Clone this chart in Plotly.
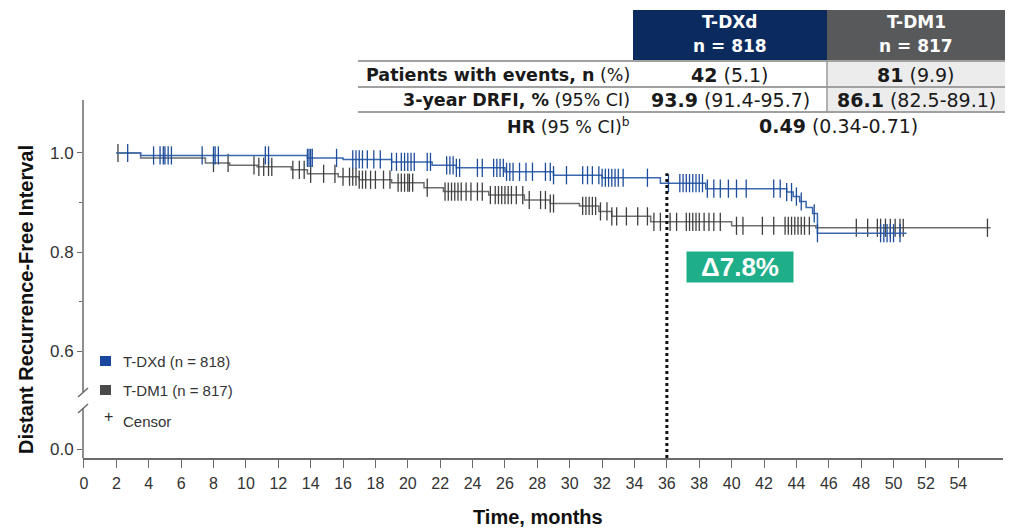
import numpy as np
import plotly.graph_objects as go

# ---------------- data ----------------
tdxd_times = [2.0, 3.5, 13.8, 16.0, 19.0, 21.5, 23.0, 26.0, 29.0, 32.0, 35.6, 38.4,
              43.4, 43.8, 44.2, 44.6, 45.0, 45.3]
tdxd_surv = [1.0, 0.995, 0.990, 0.987, 0.982, 0.975, 0.970, 0.962, 0.955, 0.950, 0.939,
             0.928, 0.921, 0.912, 0.902, 0.890, 0.878, 0.838]
tdxd_end = 50.8

tdm1_times = [2.0, 3.5, 7.5, 9.0, 10.7, 12.8, 13.8, 15.7, 17.0, 19.0, 21.0, 22.2, 25.0,
              27.2, 28.8, 30.6, 31.8, 32.6, 35.0, 40.0, 45.2]
tdm1_surv = [1.0, 0.990, 0.980, 0.975, 0.972, 0.966, 0.958, 0.952, 0.946, 0.940, 0.930,
             0.922, 0.915, 0.905, 0.898, 0.893, 0.882, 0.872, 0.861, 0.853, 0.849]
tdm1_end = 56.0

tdxd_censor = [2.7, 4.3, 4.7, 4.9, 5.0, 5.2, 5.4, 7.3, 8.0, 8.1, 8.3, 11.2, 11.4, 13.8, 13.9,
               14.0, 14.1, 15.6, 16.6, 16.8, 17.0, 17.2, 17.5, 17.9, 18.3, 19.0, 19.3, 19.6,
               19.8, 20.0, 20.2, 20.4, 21.2, 21.4, 22.4, 22.6, 22.8, 23.0, 23.2, 24.3, 24.6,
               25.3, 25.5, 25.7, 25.9, 26.1, 26.3, 26.5, 26.9, 27.3, 27.7, 28.5, 28.8, 29.0,
               29.8, 30.8, 31.1, 31.4, 31.8, 32.0, 32.2, 32.4, 32.6, 32.8, 33.0, 33.3, 34.8,
               36.1, 36.8, 37.0, 37.2, 37.4, 37.6, 37.8, 38.0, 38.2, 38.5, 38.9, 39.3, 39.8,
               40.3, 40.9, 42.6, 43.0, 43.4, 43.7, 44.0, 44.3, 45.1, 45.3, 49.2, 49.4, 49.6,
               49.8, 50.0, 50.4]
tdm1_censor = [2.1, 8.0, 8.9, 10.5, 10.8, 11.1, 11.4, 11.6, 12.9, 13.3, 13.6, 14.0, 14.8, 15.5,
               16.0, 16.4, 16.6, 16.8, 17.0, 17.2, 17.4, 17.7, 18.0, 18.5, 18.9, 19.4, 19.6,
               19.8, 20.0, 20.1, 20.3, 21.2, 22.3, 22.5, 22.7, 22.9, 23.1, 23.3, 23.6, 23.9,
               24.3, 24.6, 25.1, 25.4, 25.6, 25.8, 26.0, 26.2, 26.4, 26.7, 27.1, 27.5, 28.2,
               28.5, 28.8, 29.0, 30.8, 31.0, 31.2, 31.4, 31.6, 31.9, 32.3, 32.6, 32.9, 33.5,
               34.2, 34.8, 35.2, 35.6, 36.2, 36.6, 37.2, 37.4, 37.6, 37.8, 38.0, 38.3, 38.6,
               38.9, 39.3, 40.3, 40.7, 41.9, 42.6, 43.3, 43.5, 43.7, 43.9, 44.1, 44.3, 44.5,
               44.8, 47.7, 48.4, 49.0, 49.2, 49.5, 49.8, 50.1, 50.4, 50.6, 55.8]

x_ticks = list(range(0, 56, 2))
y_tick_labels = ["0.0", "0.6", "0.8", "1.0"]
y_tick_values = [0.0, 0.6, 0.8, 1.0]
landmark_month = 36
delta_text = "Δ7.8%"

table_rows = ["<b>Patients with events, n</b> (%)", "<b>3-year DRFI, %</b> (95% CI)",
              "<b>HR</b> (95 % CI)<sup>b</sup>"]
tdxd_cells = ["<b>42</b> (5.1)", "<b>93.9</b> (91.4-95.7)"]
tdm1_cells = ["<b>81</b> (9.9)", "<b>86.1</b> (82.5-89.1)"]
hr_cell = "<b>0.49</b> (0.34-0.71)"

# ---------------- styling / layout helpers ----------------
BLUE_LINE = "#3a68b0"
BLUE_MARK = "#1d4d9a"
GRAY_LINE = "#6e6e6e"
GRAY_MARK = "#3f3f3f"
NAVY = "#0b2b5e"
DGRAY = "#58595b"
FONT = "Liberation Sans, Arial, sans-serif"
WFONT = "DejaVu Sans, Liberation Sans, sans-serif"

W, H = 1015, 528
L, R, T, B = 83, 1003, 100, 458  # plot area in pixels

# broken axis: the "0.0" tick sits below the break at a pseudo position
ZERO_POS = 0.402
Y_RANGE = [0.384, 1.107]
X_RANGE = [-0.06, 56.76]


def ymap(v):
    return ZERO_POS if v == 0.0 else v


def px(xp):
    return (xp - L) / (R - L)


def py(yp):
    return (B - yp) / (B - T)


def step_value(times, surv, t):
    idx = np.searchsorted(np.asarray(times), t, side="right") - 1
    return np.asarray(surv)[np.clip(idx, 0, len(surv) - 1)]


fig = go.Figure()

for times, surv, end, cens, lc, mc, name in [
    (tdm1_times, tdm1_surv, tdm1_end, tdm1_censor, GRAY_LINE, GRAY_MARK, "T-DM1"),
    (tdxd_times, tdxd_surv, tdxd_end, tdxd_censor, BLUE_LINE, BLUE_MARK, "T-DXd"),
]:
    xs = list(times) + [end]
    ys = list(surv) + [surv[-1]]
    fig.add_trace(go.Scatter(x=xs, y=ys, mode="lines", line=dict(color=lc, width=1.5, shape="hv"),
                             showlegend=False, name=name, hoverinfo="skip"))
    cy = step_value(times, surv, np.asarray(cens))
    fig.add_trace(go.Scatter(x=cens, y=cy, mode="markers",
                             marker=dict(symbol="line-ns", size=13, line=dict(color=mc, width=1.3)),
                             showlegend=False, name=name + " censor", hoverinfo="skip"))

shapes = []
# landmark dotted line at 36 months
tdxd_36 = float(step_value(tdxd_times, tdxd_surv, landmark_month))
shapes.append(dict(type="line", xref="x", yref="y", x0=landmark_month, x1=landmark_month,
                   y0=Y_RANGE[0], y1=tdxd_36 + 0.02, line=dict(color="#111", width=3, dash="dot")))
# y-axis line with break
axis_col = "#6a6a6a"
shapes.append(dict(type="line", xref="paper", yref="paper", x0=0, x1=0, y0=py(T), y1=py(392),
                   line=dict(color=axis_col, width=1.5)))
shapes.append(dict(type="line", xref="paper", yref="paper", x0=0, x1=0, y0=py(408), y1=py(B),
                   line=dict(color=axis_col, width=1.5)))
for yc in (392, 408):
    shapes.append(dict(type="line", xref="paper", yref="paper", x0=px(78), x1=px(88),
                       y0=py(yc + 5), y1=py(yc - 4), line=dict(color=axis_col, width=1.5)))

# legend squares
shapes.append(dict(type="rect", xref="paper", yref="paper", x0=px(100), x1=px(111),
                   y0=py(366), y1=py(356), fillcolor="#1a47a0", line=dict(width=0)))
shapes.append(dict(type="rect", xref="paper", yref="paper", x0=px(100), x1=px(111),
                   y0=py(395), y1=py(385), fillcolor="#4a4a4a", line=dict(width=0)))

# table
TX0, TC1, TC2, TX1 = 358, 633, 827, 1005
shapes.append(dict(type="rect", xref="paper", yref="paper", x0=px(TC1), x1=px(TC2),
                   y0=py(60), y1=py(10), fillcolor=NAVY, line=dict(width=0)))
shapes.append(dict(type="rect", xref="paper", yref="paper", x0=px(TC2), x1=px(TX1),
                   y0=py(60), y1=py(10), fillcolor=DGRAY, line=dict(width=0)))
shapes.append(dict(type="rect", xref="paper", yref="paper", x0=px(TC2), x1=px(TX1),
                   y0=py(112), y1=py(61), fillcolor="#ececec", line=dict(width=0)))
for yl in (61, 87, 112):
    shapes.append(dict(type="line", xref="paper", yref="paper", x0=px(TX0), x1=px(TX1),
                       y0=py(yl), y1=py(yl), line=dict(color="#a0a0a0", width=2)))
shapes.append(dict(type="line", xref="paper", yref="paper", x0=px(TC2), x1=px(TC2),
                   y0=py(61), y1=py(112), line=dict(color="#9a9a9a", width=1.5)))

ann = []


def add_text(xp, yp, text, font, xanchor="center", **kw):
    ann.append(dict(x=px(xp), y=py(yp), xref="paper", yref="paper", showarrow=False,
                    xanchor=xanchor, yanchor="middle", text=text, font=font, **kw))


lab_font = dict(family=WFONT, size=17.5, color="#1a1a1a")
cell_font = dict(family=WFONT, size=19, color="#1a1a1a")
hfont = dict(family=WFONT, size=17, color="white")
add_text((TC1 + TC2) / 2, 22, "<b>T-DXd</b>", hfont)
add_text((TC1 + TC2) / 2, 46, "<b>n = 818</b>", hfont)
add_text((TC2 + TX1) / 2, 22, "<b>T-DM1</b>", hfont)
add_text((TC2 + TX1) / 2, 46, "<b>n = 817</b>", hfont)
row_y = [74.5, 100, 126]
for i, lab in enumerate(table_rows):
    add_text(632, row_y[i], lab, lab_font, xanchor="right")
for i in range(2):
    add_text((TC1 + TC2) / 2, row_y[i], tdxd_cells[i], cell_font)
    add_text((TC2 + TX1) / 2, row_y[i], tdm1_cells[i], cell_font)
add_text(838, row_y[2], hr_cell, cell_font)

# legend text
lfont = dict(family=FONT, size=15, color="#333")
add_text(121, 361, "T-DXd (n = 818)", lfont, xanchor="left")
add_text(121, 390, "T-DM1 (n = 817)", lfont, xanchor="left")
add_text(108, 416, "+", dict(family=FONT, size=16, color="#333"))
add_text(121, 421, "Censor", lfont, xanchor="left")

# delta box
add_text(740, 267, "<b>" + delta_text + "</b>", dict(family=FONT, size=26, color="white"),
         bgcolor="#1fae8a", width=106, height=30, borderpad=0)

# axis titles
add_text(538, 517, "<b>Time, months</b>", dict(family=FONT, size=20, color="#111"))
add_text(26, 300, "<b>Distant Recurrence-Free Interval</b>",
         dict(family=FONT, size=20, color="#111"), textangle=-90)

fig.update_layout(
    width=W, height=H,
    margin=dict(l=L, r=W - R, t=T, b=H - B, pad=0),
    paper_bgcolor="white", plot_bgcolor="white",
    shapes=shapes, annotations=ann,
    showlegend=False,
    xaxis=dict(range=X_RANGE, tickvals=x_ticks, ticktext=[str(v) for v in x_ticks],
               showline=True, linecolor=axis_col, linewidth=1.5, ticks="outside", ticklen=8,
               tickcolor=axis_col, tickwidth=1.2, showgrid=False, zeroline=False,
               ticklabelstandoff=2,
               tickfont=dict(family=FONT, size=16, color="#333")),
    yaxis=dict(range=Y_RANGE, tickvals=[ymap(v) for v in y_tick_values], ticktext=y_tick_labels,
               showline=False, ticks="outside", ticklen=5, tickcolor=axis_col, tickwidth=1.2,
               showgrid=False, zeroline=False,
               minor=dict(tickvals=[0.7, 0.9], ticks="outside", ticklen=3, tickcolor=axis_col),
               tickfont=dict(family=FONT, size=17, color="#333")),
)

fig.write_html("out.html")
